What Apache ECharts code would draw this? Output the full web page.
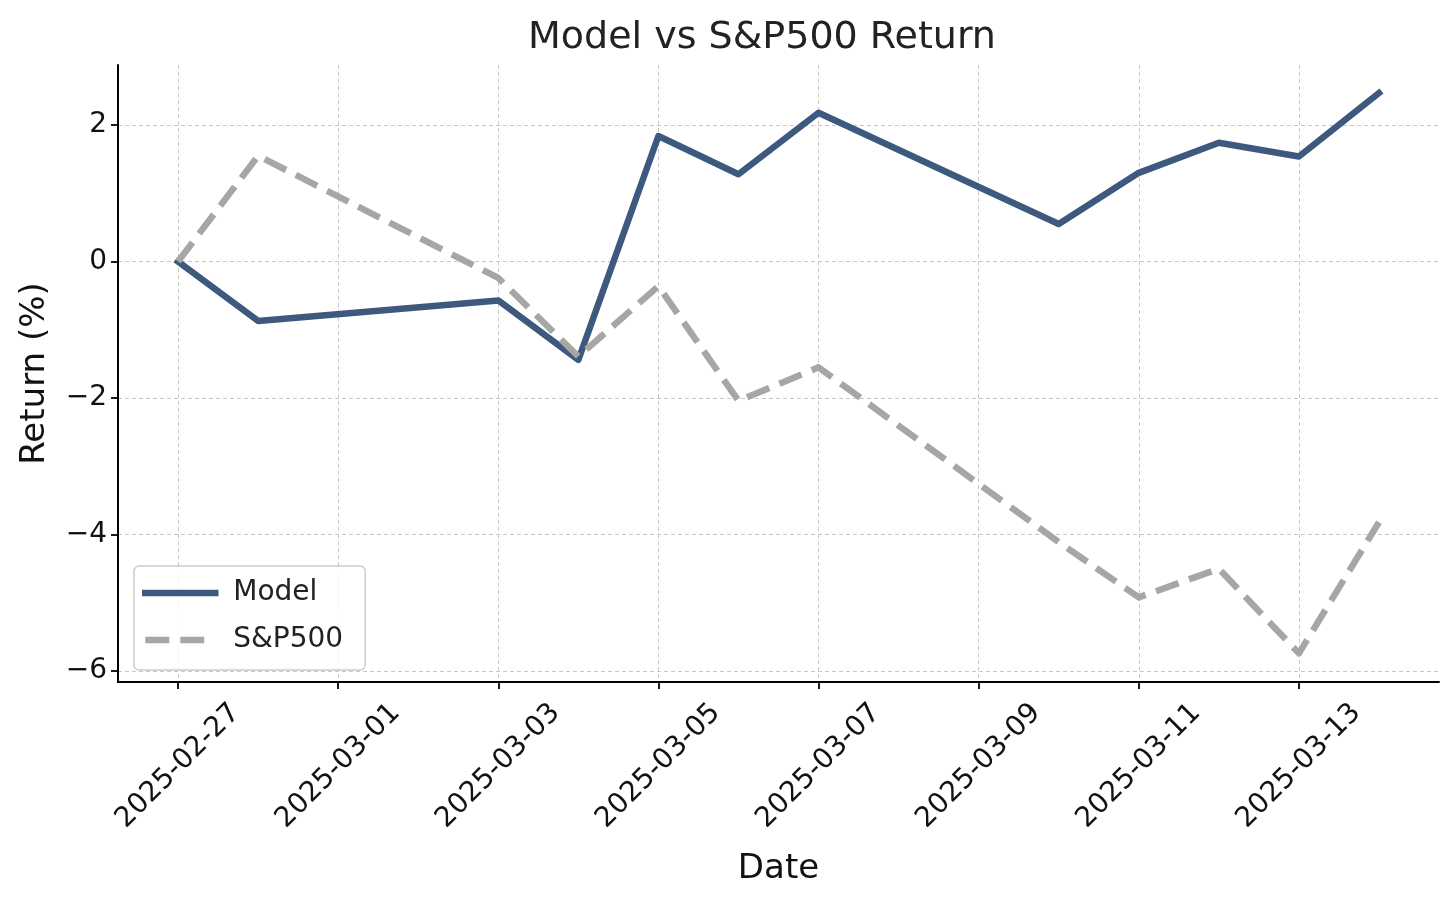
<!DOCTYPE html>
<html>
<head>
<meta charset="utf-8">
<script src="https://cdn.jsdelivr.net/npm/echarts@6/dist/echarts.min.js"></script>
<style>
html,body{margin:0;padding:0;background:#fff;}
#chart{width:1456px;height:903px;}
</style>
</head>
<body>
<div id="chart"></div>
<script>
const dates = ['2025-02-27','2025-02-28','2025-03-03','2025-03-04','2025-03-05','2025-03-06','2025-03-07','2025-03-10','2025-03-11','2025-03-12','2025-03-13','2025-03-14'];
const modelReturn = [0, -0.87, -0.57, -1.44, 1.84, 1.28, 2.18, 0.55, 1.30, 1.74, 1.54, 2.47];
const sp500Return = [0, 1.55, -0.24, -1.39, -0.36, -2.04, -1.55, -4.11, -4.92, -4.50, -5.74, -3.82];
const xTickDates = ['2025-02-27','2025-03-01','2025-03-03','2025-03-05','2025-03-07','2025-03-09','2025-03-11','2025-03-13'];
const yTicks = [-6, -4, -2, 0, 2];

const DAY = 86400000;
const base = Date.UTC(2025, 1, 27);
const toDay = s => { const p = s.split('-').map(Number); return (Date.UTC(p[0], p[1]-1, p[2]) - base) / DAY; };
const fromDay = v => new Date(base + Math.round(v) * DAY).toISOString().slice(0, 10);

const modelData = dates.map((d, i) => [toDay(d), modelReturn[i]]);
const spData = dates.map((d, i) => [toDay(d), sp500Return[i]]);
const xTicks = xTickDates.map(toDay);

const FONT = 'DejaVu Sans';
const chart = echarts.init(document.getElementById('chart'), null, {renderer: 'canvas'});
chart.setOption({
  animation: false,
  backgroundColor: '#ffffff',
  title: {
    text: 'Model vs S&P500 Return',
    left: 757, top: 14, textAlign: 'center',
    textStyle: {fontFamily: FONT, fontSize: 38, fontWeight: 'normal', color: '#222'}
  },
  grid: {left: 118, right: 17, top: 65, bottom: 221, containLabel: false},
  legend: {
    orient: 'vertical', left: 134, top: 566,
    data: ['Model', 'S&P500'],
    itemWidth: 70, itemHeight: 2, itemGap: 11,
    padding: [9, 22, 12, 8],
    backgroundColor: 'rgba(255,255,255,0.8)',
    borderColor: '#cccccc', borderWidth: 1.5, borderRadius: 5,
    itemStyle: {color: 'rgba(0,0,0,0)', borderWidth: 0},
    lineStyle: {width: 6.5},
    textStyle: {fontFamily: FONT, fontSize: 28, color: '#222', lineHeight: 36, padding: [0, 0, 0, 13]}
  },
  xAxis: {
    type: 'value', min: -0.75, max: 15.75,
    axisLine: {show: true, onZero: false, lineStyle: {color: '#000', width: 2}},
    axisTick: {show: true, customValues: xTicks, length: 7, lineStyle: {color: '#000', width: 1.8}},
    axisLabel: {
      customValues: xTicks, rotate: 45, align: 'center', verticalAlign: 'middle', margin: 84,
      fontFamily: FONT, fontSize: 28, color: '#111',
      formatter: v => fromDay(v)
    },
    splitLine: {show: true, lineStyle: {color: '#c8c8c8', width: 1, type: [4, 3]}},
    name: 'Date', nameLocation: 'middle', nameGap: 170,
    nameTextStyle: {fontFamily: FONT, fontSize: 34, color: '#111'}
  },
  yAxis: {
    type: 'value', min: -6.16, max: 2.88,
    axisLine: {show: true, onZero: false, lineStyle: {color: '#000', width: 2}},
    axisTick: {show: true, customValues: yTicks, length: 7, lineStyle: {color: '#000', width: 1.8}},
    axisLabel: {
      customValues: yTicks, margin: 11,
      fontFamily: FONT, fontSize: 28, color: '#111',
      formatter: v => (v < 0 ? '\u2212' + Math.abs(v) : String(v))
    },
    splitLine: {show: true, lineStyle: {color: '#c8c8c8', width: 1, type: [4, 3]}},
    name: 'Return (%)', nameLocation: 'middle', nameGap: 66,
    nameTextStyle: {fontFamily: FONT, fontSize: 34, color: '#111'}
  },
  series: [
    {
      name: 'Model', type: 'line', data: modelData, symbol: 'none',
      lineStyle: {color: '#3d5a7e', width: 6.5, join: 'round', cap: 'square'},
      itemStyle: {color: '#3d5a7e'}
    },
    {
      name: 'S&P500', type: 'line', data: spData, symbol: 'none',
      lineStyle: {color: '#a6a6a2', width: 6.5, type: [24, 11], join: 'round', cap: 'butt'},
      itemStyle: {color: '#a6a6a2'}
    }
  ]
});
</script>
</body>
</html>
